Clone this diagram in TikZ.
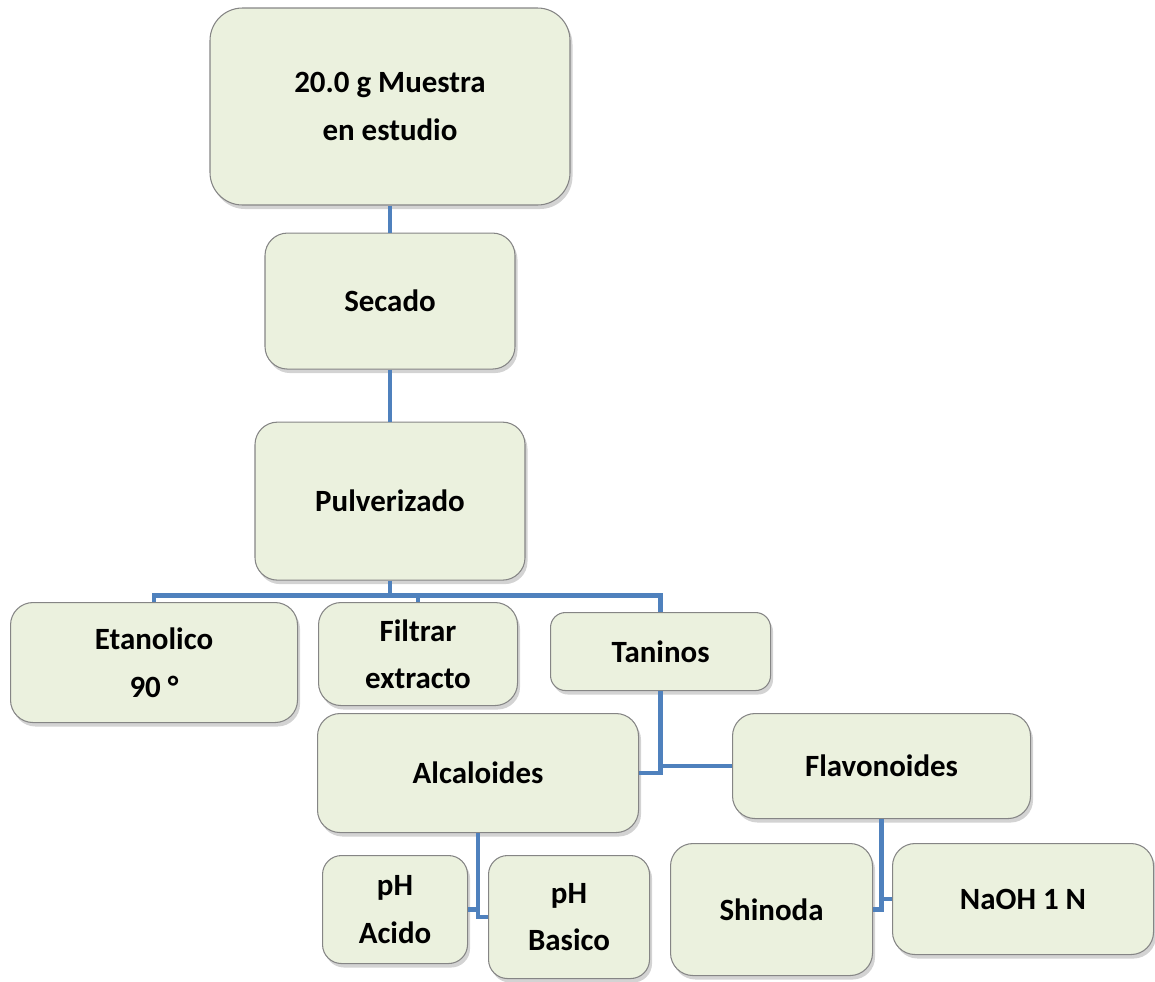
\documentclass[tikz,border=0pt]{standalone}
\usepackage{fontspec}
\setmainfont{Carlito}
\usetikzlibrary{positioning,shadows}
\definecolor{boxfill}{HTML}{EBF1DE}
\definecolor{boxdraw}{HTML}{858585}
\definecolor{linkcol}{HTML}{4F81BD}
\tikzset{
  stepbox/.style={
    rectangle, draw=boxdraw, fill=boxfill, line width=0.6pt,
    rounded corners=#1, align=center, inner sep=0pt,
    font=\fontsize{17.6}{27}\selectfont\bfseries,
    drop shadow={shadow xshift=0.05cm, shadow yshift=-0.08cm, opacity=0.35},
  },
  stepbox/.default={0.45cm},
  link/.style={draw=linkcol, line width=2.7pt},
}

\begin{document}
\begin{tikzpicture}
\useasboundingbox (0,0) rectangle (23.1,-19.62);

% ===== main chain =====
\node[stepbox=0.65cm, minimum width=7.2cm, minimum height=3.94cm] (muestra) at (7.8,-2.13) {20.0 g Muestra\\en estudio};
\node[stepbox, minimum width=5.0cm, minimum height=2.72cm, below=0.54cm of muestra] (secado) {Secado};
\node[stepbox, minimum width=5.4cm, minimum height=3.16cm, below=1.04cm of secado] (pulv) {Pulverizado};

% ===== first branch =====
\node[stepbox, minimum width=5.74cm, minimum height=2.4cm, anchor=north west] (etan) at (0.2,-12.04) {Etanolico\\90 °};
\node[stepbox, minimum width=3.98cm, minimum height=2.06cm, anchor=north west] (filtrar) at (6.36,-12.04) {Filtrar\\extracto};
\node[stepbox=0.3cm, minimum width=4.4cm, minimum height=1.56cm, anchor=north west] (taninos) at (11.0,-12.24) {Taninos};

% ===== second branch =====
\node[stepbox, minimum width=6.42cm, minimum height=2.38cm, anchor=north west] (alc) at (6.34,-14.26) {Alcaloides};
\node[stepbox, minimum width=5.96cm, minimum height=2.1cm, anchor=north west] (flav) at (14.64,-14.26) {Flavonoides};

% ===== tests =====
\node[stepbox=0.38cm, minimum width=2.9cm, minimum height=2.16cm, anchor=north west] (acido) at (6.44,-17.1) {pH\\Acido};
\node[stepbox=0.38cm, minimum width=3.22cm, minimum height=2.46cm, anchor=north west] (basico) at (9.76,-17.1) {pH\\Basico};
\node[stepbox, minimum width=4.04cm, minimum height=2.64cm, anchor=north west] (shinoda) at (13.4,-16.86) {Shinoda};
\node[stepbox, minimum width=5.22cm, minimum height=2.22cm, anchor=north west] (naoh) at (17.84,-16.86) {NaOH 1 N};

% ===== connectors =====
\draw[link] (muestra) -- (secado);
\draw[link] (secado) -- (pulv);
\coordinate[below=0.3cm of pulv.south] (bus);
\draw[link] (pulv.south) -- (bus);
\draw[link] (etan.north) |- (bus) -| (taninos.north);
\draw[link] (filtrar.north) -- (filtrar.north |- bus);

\draw[link] (taninos.south) |- (alc.east);
\draw[link] (taninos.south |- flav.west) -- (flav.west);

\draw[link] (alc.south) |- (basico.west);
\draw[link] (acido.east) -- (acido.east -| alc.south);

\draw[link] (flav.south) |- (shinoda.east);
\draw[link] (naoh.west) -- (naoh.west -| flav.south);

\end{tikzpicture}
\end{document}
